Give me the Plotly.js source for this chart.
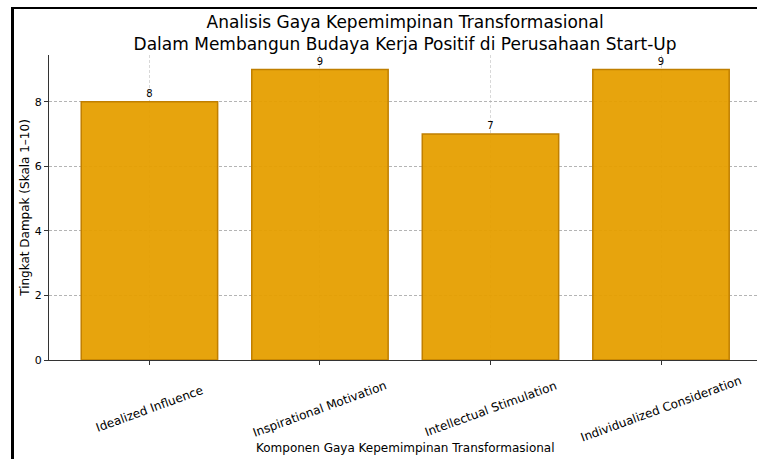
<!DOCTYPE html>
<html>
<head>
<meta charset="utf-8">
<script src="https://cdn.plot.ly/plotly-3.0.1.min.js"></script>
<style>
  html, body { margin: 0; padding: 0; background: #fff; }
  #wrap { position: relative; width: 757px; height: 459px; overflow: hidden; }
  #chart { width: 757px; height: 459px; }
  #frame { position: absolute; left: 11px; top: 7px; width: 760px; height: 470px;
           border-left: 3px solid #000; border-top: 2px solid #000; pointer-events: none; }
</style>
</head>
<body>
<div id="wrap">
  <div id="chart"></div>
  <div id="frame"></div>
</div>
<script>
const categories = ["Idealized Influence", "Inspirational Motivation", "Intellectual Stimulation", "Individualized Consideration"];
const values = [8, 9, 7, 9];
const yTicks = [0, 2, 4, 6, 8];

const titleText = "Analisis Gaya Kepemimpinan Transformasional<br>Dalam Membangun Budaya Kerja Positif di Perusahaan Start-Up";
const xTitle = "Komponen Gaya Kepemimpinan Transformasional";
const yTitle = "Tingkat Dampak (Skala 1–10)";

const FONT = "DejaVu Sans, sans-serif";

const trace = {
  type: "bar",
  x: categories,
  y: values,
  width: 0.8,
  marker: { color: "rgba(230,159,0,0.95)", line: { color: "#c07f00", width: 1.5 } },
  text: values.map(String),
  textposition: "outside",
  textfont: { family: FONT, size: 10, color: "#000" },
  cliponaxis: false,
  hoverinfo: "x+y"
};

const tickAnnotations = categories.map(c => ({
  x: c, xref: "x", y: -0.16, yref: "paper",
  text: c, showarrow: false, textangle: -20,
  xanchor: "center", yanchor: "middle",
  font: { family: FONT, size: 12, color: "#000" }
}));

const layout = {
  width: 757, height: 459,
  margin: { l: 49, r: 0, t: 55, b: 99, pad: 0 },
  paper_bgcolor: "#fff", plot_bgcolor: "#fff",
  font: { family: FONT, color: "#000" },
  showlegend: false,
  bargap: 0.2,
  title: {
    text: titleText,
    font: { family: FONT, size: 17, color: "#000" },
    x: 0.503, xref: "paper", xanchor: "center",
    y: 1.079, yref: "paper", yanchor: "bottom",
    pad: { b: 4 }
  },
  xaxis: {
    type: "category",
    range: [-0.589, 3.563],
    showticklabels: false,
    ticks: "outside", ticklen: 4, tickcolor: "#333",
    showline: true, linecolor: "#333", linewidth: 1,
    showgrid: true, gridcolor: "#d8d8d8", griddash: "3px,2px", gridwidth: 1,
    zeroline: false, fixedrange: true
  },
  yaxis: {
    range: [0, 9.45],
    tickvals: yTicks,
    ticks: "outside", ticklen: 4, tickcolor: "#333",
    tickfont: { family: FONT, size: 11, color: "#000" },
    showline: true, linecolor: "#333", linewidth: 1,
    showgrid: true, gridcolor: "#b4b4b4", griddash: "3px,2px", gridwidth: 1,
    zeroline: false, fixedrange: true,
    title: { text: yTitle, font: { family: FONT, size: 12, color: "#000" }, standoff: 2 }
  },
  annotations: tickAnnotations.concat([{
    x: 0.504, xref: "paper", y: -0.289, yref: "paper",
    text: xTitle, showarrow: false, xanchor: "center", yanchor: "middle",
    font: { family: FONT, size: 12, color: "#000" }
  }])
};

Plotly.newPlot("chart", [trace], layout, { staticPlot: true, displayModeBar: false });
</script>
</body>
</html>
